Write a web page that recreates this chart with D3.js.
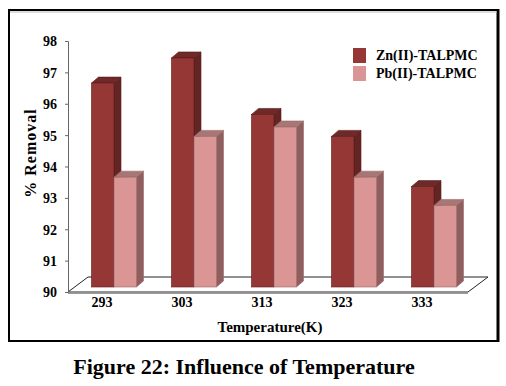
<!DOCTYPE html>
<html>
<body style="margin:0">
<script src="https://d3js.org/d3.v7.min.js"></script>
<svg id="chart" width="506" height="386"></svg>

<script>
    // data
    const temps = ["293", "303", "313", "323", "333"];
    const seriesNames = ["Zn(II)-TALPMC", "Pb(II)-TALPMC"];
    const znRemoval = [96.5, 97.3, 95.5, 94.8, 93.2];
    const pbRemoval = [93.5, 94.8, 95.1, 93.5, 92.6];
    const yTicks = [90, 91, 92, 93, 94, 95, 96, 97, 98];

    const fontName = "'Liberation Serif', 'Times New Roman', serif";

    // colours: front, side, top
    const colors = {
        "Zn(II)-TALPMC": { front: "#953735", side: "#632523", top: "#6e2a28", edge: "#5a1a18" },
        "Pb(II)-TALPMC": { front: "#d99694", side: "#8e5f5e", top: "#a87674", edge: "#9a6a68" }
    };

    const svg = d3.select("#chart");

    // outer frame
    svg.append("rect")
        .attr("x", 9).attr("y", 10)
        .attr("width", 489).attr("height", 331)
        .attr("fill", "none")
        .attr("stroke", "black")
        .attr("stroke-width", 2);
    svg.append("line")
        .attr("x1", 498).attr("x2", 498)
        .attr("y1", 9).attr("y2", 342)
        .attr("stroke", "black").attr("stroke-width", 3);
    svg.append("line")
        .attr("x1", 10).attr("x2", 497)
        .attr("y1", 12).attr("y2", 12)
        .attr("stroke", "#bbb").attr("stroke-width", 1);

    // scales
    const y = d3.scaleLinear().domain([90, 98]).range([292, 41]);
    const x0 = d3.scaleBand().domain(temps).range([68, 468]);
    const x1 = d3.scaleBand().domain(seriesNames).range([0, 45]);

    // floor depth and bar depth (fake 3D)
    const floorDx = 20, floorDy = -15;
    const barShiftX = 6, barShiftY = -5;
    const depthX = 7, depthY = -6;

    // floor
    const fl = x0.range()[0], fr = x0.range()[1], fy = y(90);
    svg.append("path")
        .attr("d", "M" + fl + "," + fy + "L" + (fl + floorDx) + "," + (fy + floorDy) +
            "L" + (fr + floorDx) + "," + (fy + floorDy) + "L" + fr + "," + fy + "Z")
        .attr("fill", "white")
        .attr("stroke", "#222")
        .attr("stroke-width", 1);
    svg.append("line")
        .attr("x1", fl).attr("x2", fr)
        .attr("y1", fy + 1.5).attr("y2", fy + 1.5)
        .attr("stroke", "#999").attr("stroke-width", 1);

    // y axis
    const yAxis = svg.append("g")
        .attr("transform", "translate(68,0)")
        .call(d3.axisLeft(y).tickValues(yTicks).tickSize(3).tickPadding(8));
    yAxis.select(".domain").attr("stroke", "#666");
    yAxis.selectAll(".tick line").attr("stroke", "#666");
    yAxis.selectAll(".tick text")
        .style("font-family", fontName)
        .style("font-weight", "bold")
        .style("font-size", "14px")
        .attr("fill", "black")
        .attr("dy", "0.35em");

    // bars
    const rows = temps.map(function(t, i) {
        return [
            { temp: t, name: seriesNames[0], value: znRemoval[i] },
            { temp: t, name: seriesNames[1], value: pbRemoval[i] }
        ];
    });

    const groups = svg.append("g").selectAll("g")
        .data(rows)
        .join("g")
        .attr("transform", function(d) {
            return "translate(" + (x0(d[0].temp) + (x0.bandwidth() - 45) / 2 + barShiftX) + "," + barShiftY + ")";
        });

    groups.each(function(row) {
        const g = d3.select(this);
        row.forEach(function(d) {
            const bx = x1(d.name), bw = x1.bandwidth();
            const top = y(d.value), bottom = y(90);
            const c = colors[d.name];
            // side face
            g.append("path")
                .attr("d", "M" + (bx + bw) + "," + top + "L" + (bx + bw + depthX) + "," + (top + depthY) +
                    "L" + (bx + bw + depthX) + "," + (bottom + depthY) + "L" + (bx + bw) + "," + bottom + "Z")
                .attr("fill", c.side)
                .attr("stroke", c.edge).attr("stroke-width", 0.6);
            // top face
            g.append("path")
                .attr("d", "M" + bx + "," + top + "L" + (bx + depthX) + "," + (top + depthY) +
                    "L" + (bx + bw + depthX) + "," + (top + depthY) + "L" + (bx + bw) + "," + top + "Z")
                .attr("fill", c.top)
                .attr("stroke", c.edge).attr("stroke-width", 0.6);
            // front face
            g.append("rect")
                .attr("x", bx).attr("y", top)
                .attr("width", bw).attr("height", bottom - top)
                .attr("fill", c.front)
                .attr("stroke", c.edge).attr("stroke-width", 0.6);
        });
    });

    // helper for serif bold text
    function label(sel, size) {
        return sel.style("font-family", fontName)
            .style("font-weight", "bold")
            .style("font-size", size + "px")
            .attr("fill", "black");
    }

    // x tick labels
    label(svg.append("g").selectAll("text")
        .data(temps)
        .join("text")
        .attr("x", function(d) { return x0(d) + x0.bandwidth() / 2 - 6; })
        .attr("y", 307)
        .attr("text-anchor", "middle")
        .text(function(d) { return d; }), 14);

    // axis titles
    label(svg.append("text")
        .attr("transform", "translate(36,153) rotate(-90)")
        .attr("text-anchor", "middle")
        .attr("letter-spacing", 1)
        .text("% Removal"), 16);
    label(svg.append("text")
        .attr("x", 270).attr("y", 332)
        .attr("text-anchor", "middle")
        .text("Temperature(K)"), 15);

    // legend
    const legend = svg.append("g").selectAll("g")
        .data(seriesNames)
        .join("g")
        .attr("transform", function(d, i) { return "translate(353," + (48 + i * 18) + ")"; });
    legend.append("rect")
        .attr("width", 13).attr("height", 15)
        .attr("fill", function(d) { return colors[d].front; });
    label(legend.append("text")
        .attr("x", 23).attr("y", 12)
        .text(function(d) { return d; }), 14);

    // caption
    label(svg.append("text")
        .attr("x", 244).attr("y", 374)
        .attr("text-anchor", "middle")
        .text("Figure 22: Influence of Temperature"), 22);
</script>
</body>
</html>
